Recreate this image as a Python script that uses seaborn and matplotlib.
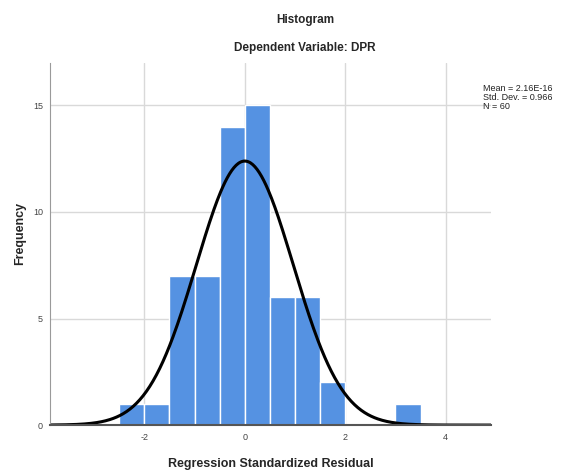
import matplotlib
matplotlib.use("Agg")
import matplotlib.pyplot as plt
import seaborn as sns
import numpy as np
import pandas as pd

# histogram bins (width 0.5) and counts
BIN_LEFT = [-2.5, -2.0, -1.5, -1.0, -0.5, 0.0, 0.5, 1.0, 1.5, 2.0, 2.5, 3.0]
COUNTS = [1, 1, 7, 7, 14, 15, 6, 6, 2, 0, 0, 1]
BIN_WIDTH = 0.5

MEAN = 2.16e-16
STD = 0.966
N = 60

X_TICKS = [-2, 0, 2, 4]
Y_TICKS = [0, 5, 10, 15]

BAR_COLOR = "#5592E2"
GRID_COLOR = "#D9D9D9"

sns.set_style("white")
plt.rcParams["font.family"] = ["Liberation Sans", "DejaVu Sans"]
plt.rcParams["axes.unicode_minus"] = False

df = pd.DataFrame({"resid": np.array(BIN_LEFT) + BIN_WIDTH / 2, "count": COUNTS})
edges = list(BIN_LEFT) + [BIN_LEFT[-1] + BIN_WIDTH]

fig = plt.figure(figsize=(5.63, 4.76), dpi=100)
ax = fig.add_axes([0.0888, 0.107, 0.783, 0.761])

ax.set_axisbelow(True)
ax.grid(True, color=GRID_COLOR, linewidth=1.0)

sns.histplot(
    data=df, x="resid", weights="count", bins=edges,
    color=BAR_COLOR, alpha=1.0, edgecolor="white", linewidth=1.0, ax=ax
)

# fitted normal curve scaled to counts
xs = np.linspace(-3.9, 4.9, 400)
ys = N * BIN_WIDTH * np.exp(-0.5 * ((xs - MEAN) / STD) ** 2) / (STD * np.sqrt(2 * np.pi))
sns.lineplot(x=xs, y=ys, color="black", linewidth=2.2, ax=ax)

ax.set_xlim(-3.88, 4.9)
ax.set_ylim(0, 17.0)
ax.set_xticks(X_TICKS)
ax.set_yticks(Y_TICKS)
ax.tick_params(axis="both", length=0, labelsize=6.5, labelcolor="#444444")
ax.tick_params(axis="y", pad=5)
ax.tick_params(axis="x", pad=6)

for s in ["top", "right"]:
    ax.spines[s].set_visible(False)
ax.spines["left"].set_color("#9a9a9a")
ax.spines["bottom"].set_color("#555555")
ax.spines["bottom"].set_linewidth(1.5)

ax.set_xlabel("")
ax.set_ylabel("")
fig.text(271 / 563, 1 - 464 / 476, "Regression Standardized Residual",
         ha="center", va="center", fontsize=9, fontweight="bold")
fig.text(20 / 563, 1 - 233 / 476, "Frequency", rotation=90,
         ha="center", va="center", fontsize=9, fontweight="bold")

fig.text(305 / 563, 1 - 20 / 476, "Histogram", ha="center", va="center",
         fontsize=8.5, fontweight="bold")
fig.text(305 / 563, 1 - 48 / 476, "Dependent Variable: DPR", ha="center", va="center",
         fontsize=8.5, fontweight="bold")

fig.text(483 / 563, 1 - 98 / 476,
         f"Mean = 2.16E-16\nStd. Dev. = {STD}\nN = {N}",
         ha="left", va="center", fontsize=6.5, linespacing=1.0, color="#222222")

fig.savefig("out.png", dpi=100)
